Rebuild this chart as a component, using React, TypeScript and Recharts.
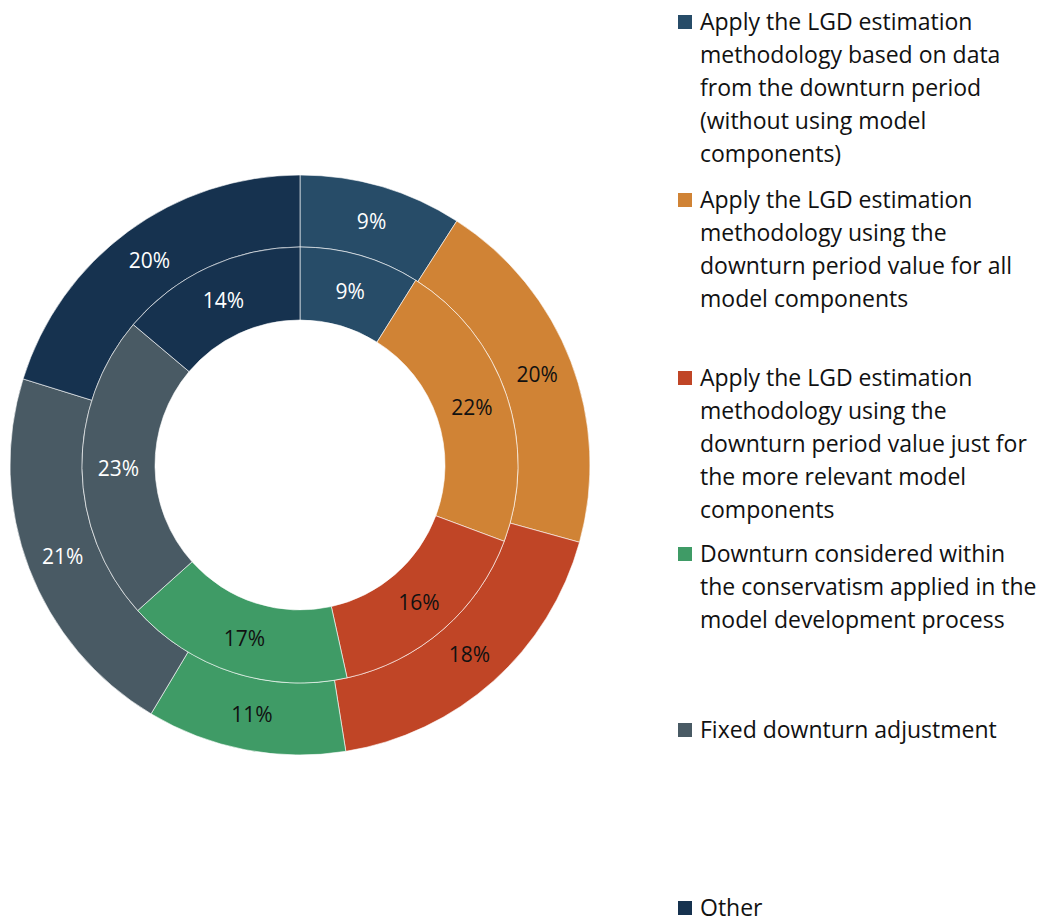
import React from "react";
import { PieChart, Pie, Cell } from "recharts";

const categories = [
  "Apply the LGD estimation methodology based on data from the downturn period (without using model components)",
  "Apply the LGD estimation methodology using the downturn period value for all model components",
  "Apply the LGD estimation methodology using the downturn period value just for the more relevant model components",
  "Downturn considered within the conservatism applied in the model development process",
  "Fixed downturn adjustment",
  "Other",
];
const legendLines = [
  ["Apply the LGD estimation", "methodology based on data", "from the downturn period", "(without using model", "components)"],
  ["Apply the LGD estimation", "methodology using the", "downturn period value for all", "model components"],
  ["Apply the LGD estimation", "methodology using the", "downturn period value just for", "the more relevant model", "components"],
  ["Downturn considered within", "the conservatism applied in the", "model development process"],
  ["Fixed downturn adjustment"],
  ["Other"],
];
const outerValues = [9, 20, 18, 11, 21, 20];
const innerValues = [9, 22, 16, 17, 23, 14];
const colors = ["#274C68", "#D08335", "#C04526", "#3F9B66", "#495A64", "#16324F"];
const labelColors = ["#ffffff", "#111111", "#111111", "#111111", "#ffffff", "#ffffff"];
const legendTops = [21, 199, 377, 553, 729, 907];

const outerData = categories.map((name, i) => ({ name, value: outerValues[i] }));
const innerData = categories.map((name, i) => ({ name, value: innerValues[i] }));

const RAD = Math.PI / 180;
const FONT = "'Open Sans', sans-serif";

const makeLabel = (props: any) => {
  const { cx, cy, midAngle, innerRadius, outerRadius, value, index } = props;
  const r = (innerRadius + outerRadius) / 2;
  const x = cx + r * Math.cos(-midAngle * RAD);
  const y = cy + r * Math.sin(-midAngle * RAD);
  return (
    <text
      x={x}
      y={y}
      fill={labelColors[index]}
      textAnchor="middle"
      dominantBaseline="central"
      fontFamily={FONT}
      fontSize={21}
    >
      {value}%
    </text>
  );
};

export default function App() {
  return (
    <div style={{ position: "absolute", left: 0, top: 0, width: 1043, height: 917, background: "#fff", overflow: "hidden" }}>
      <PieChart
        width={640}
        height={917}
        margin={{ top: 0, right: 0, bottom: 0, left: 0 }}
        style={{ position: "absolute", left: 0, top: 0 }}
      >
        <Pie
          data={outerData}
          dataKey="value"
          cx={300}
          cy={465}
          innerRadius={218}
          outerRadius={290}
          startAngle={90}
          endAngle={-270}
          isAnimationActive={false}
          labelLine={false}
          label={makeLabel}
          stroke="#ffffff"
          strokeWidth={0.6}
        >
          {outerData.map((d, i) => (
            <Cell key={d.name} fill={colors[i]} />
          ))}
        </Pie>
        <Pie
          data={innerData}
          dataKey="value"
          cx={300}
          cy={465}
          innerRadius={145}
          outerRadius={218}
          startAngle={90}
          endAngle={-270}
          isAnimationActive={false}
          labelLine={false}
          label={makeLabel}
          stroke="#ffffff"
          strokeWidth={0.6}
        >
          {innerData.map((d, i) => (
            <Cell key={d.name} fill={colors[i]} />
          ))}
        </Pie>
      </PieChart>
      {legendLines.map((lines, i) => (
        <div key={i} style={{ position: "absolute", left: 678, top: legendTops[i] - 16.5 }}>
          <div
            style={{
              position: "absolute",
              left: 0,
              top: 10,
              width: 14,
              height: 14,
              background: colors[i],
            }}
          />
          <div
            style={{
              position: "absolute",
              left: 22,
              top: 0,
              fontFamily: FONT,
              fontSize: 23,
              lineHeight: "33px",
              color: "#111",
              whiteSpace: "nowrap",
            }}
          >
            {lines.map((l, j) => (
              <div key={j}>{l}</div>
            ))}
          </div>
        </div>
      ))}
    </div>
  );
}
